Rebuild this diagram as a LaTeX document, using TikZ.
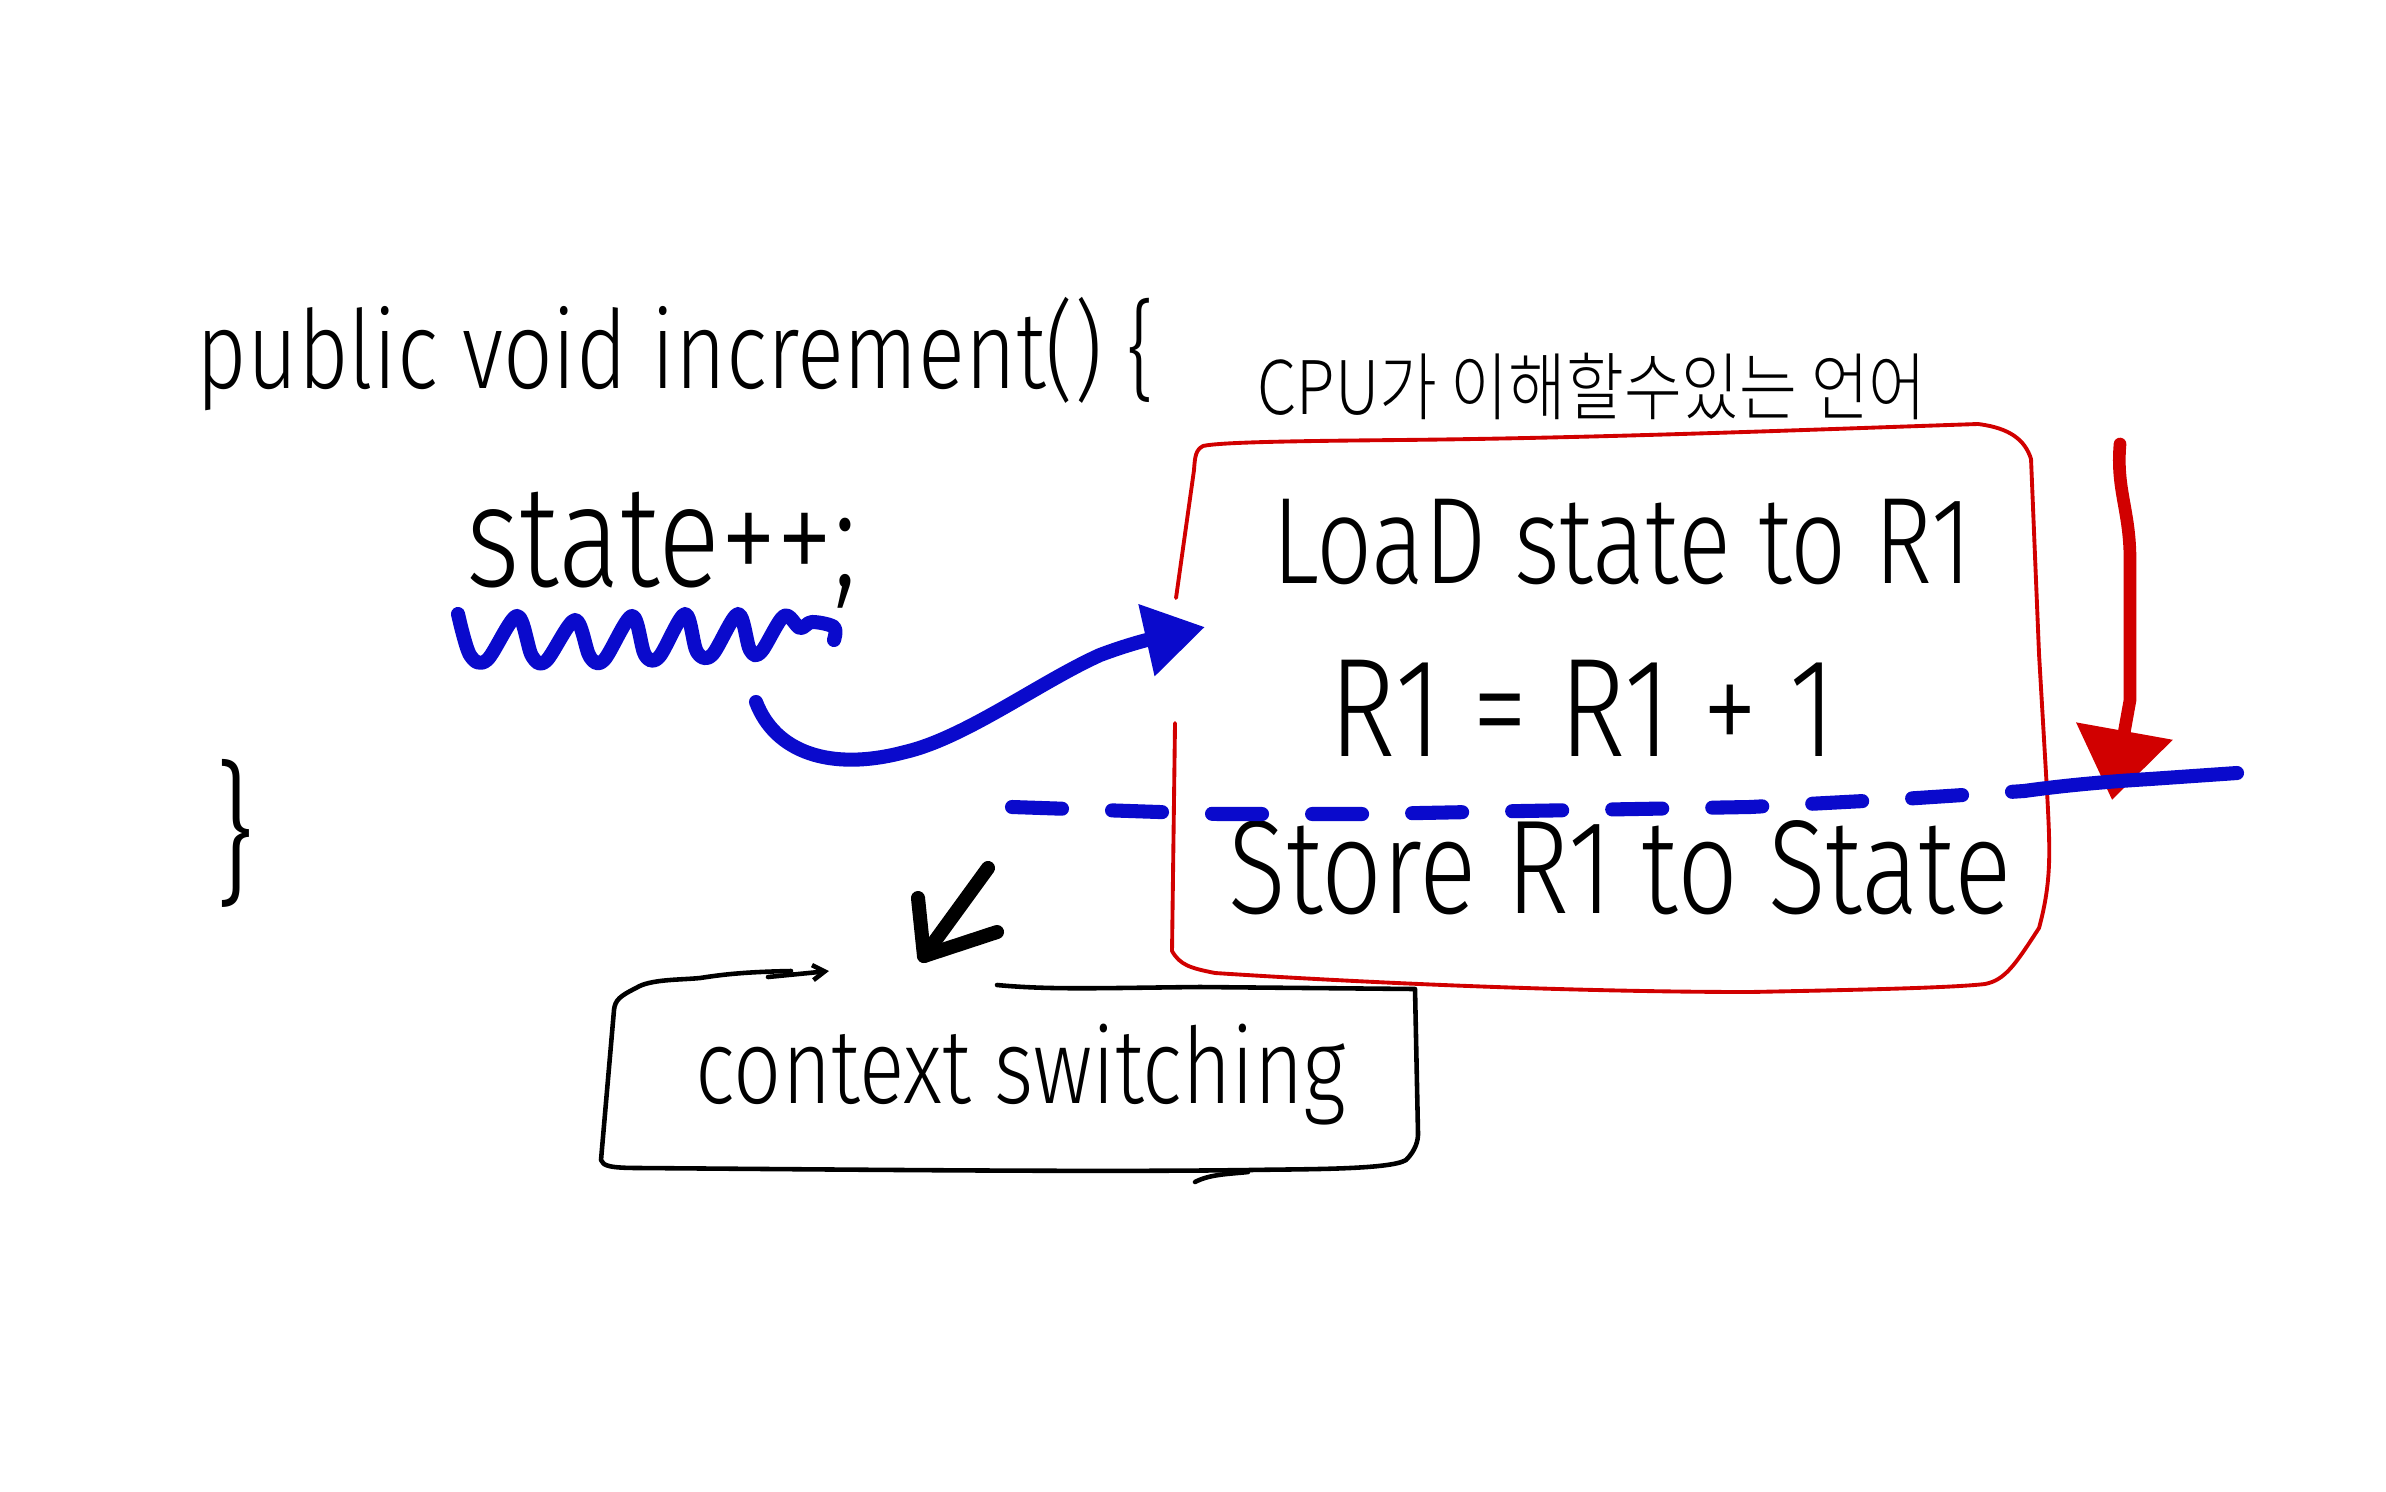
\documentclass[tikz,border=0pt]{standalone}
\usepackage{fontspec}
\setmainfont{Fira Sans}[UprightFont=* Light,FakeStretch=0.8]
\newfontfamily\kofont{Noto Sans CJK KR}[UprightFont=* Light,FakeStretch=0.85]
\usetikzlibrary{arrows.meta}
\definecolor{penred}{HTML}{D10000}
\definecolor{penblue}{HTML}{0A0ACC}
\begin{document}
\begin{tikzpicture}[x=0.01cm,y=-0.01cm,line cap=round,line join=round,
  txt/.style={inner sep=0pt,text=black,anchor=base},
  redbox/.style={draw=penred,line width=1.1pt},
  redpen/.style={draw=penred,line width=3.6pt},
  bluepen/.style={draw=penblue,line width=4pt},
  blackbox/.style={draw=black,line width=1.3pt},
  blackpen/.style={draw=black,line width=4pt}]
\useasboundingbox[fill=white] (0,0) rectangle (2386,1491);

% texts
\node[txt,font=\fontsize{31}{36}\selectfont] (sig) at (676,388) {public void increment() \{};
\node[txt,font=\fontsize{41}{46}\selectfont] (stmt) at (662,586) {state++;};
\node[txt,font=\fontsize{44}{50}\selectfont,anchor=center] (close) at (235,833) {\}};
\node[txt,font=\kofont\fontsize{21}{26}\selectfont] (ko) at (1592,414) {CPU가 이해할수있는 언어};
\node[txt,font=\fontsize{35}{40}\selectfont] (l1) at (1622,583) {LoaD state to R1};
\node[txt,font=\fontsize{40}{46}\selectfont] (l2) at (1583,756) {R1 = R1 + 1};
\node[txt,font=\fontsize{38}{44}\selectfont] (l3) at (1620,913) {Store R1 to State};
\node[txt,font=\fontsize{30}{36}\selectfont] (cs) at (1021,1103) {context switching};

% red box (gap on the left edge)
\draw[redbox] (1175,723) -- (1172,951) .. controls (1180,965) and (1190,968) .. (1215,973)
  .. controls (1400,985) and (1600,992) .. (1750,992) .. controls (1850,990) and (1950,988) .. (1985,984)
  .. controls (2005,980) and (2015,965) .. (2039,928) .. controls (2052,880) and (2050,850) .. (2047,791)
  -- (2039,654) -- (2031,459) .. controls (2025,440) and (2010,428) .. (1978,424)
  .. controls (1800,430) and (1600,438) .. (1400,440) .. controls (1300,441) and (1220,442) .. (1203,446)
  .. controls (1196,450) and (1195,455) .. (1194,470) -- (1176,598);

% red arrow
\coordinate (rtop) at (2120,444);
\coordinate (rtip) at (2112,800);
\draw[redpen,-{Triangle[length=0.7cm,width=0.95cm]}] (rtop) .. controls (2116,490) and (2130,510) .. (2130,560) -- (2130,700) -- (rtip);

% blue dashed line with solid right part
\coordinate (dl) at (1012,807);
\coordinate (dm) at (2024,791);
\coordinate (dr) at (2237,773);
\draw[bluepen,dash pattern=on 0.5cm off 0.5cm] (dl) -- (1218,814) -- (1370,814) -- (1522,811) -- (1750,807) -- (1902,799) -- (dm);
\draw[bluepen] (dm) .. controls (2060,786) and (2100,782) .. (2150,779) -- (dr);

% blue wavy underline
\draw[bluepen] plot[smooth,tension=0.55] coordinates {(458,614) (470,655) (487,660) (517,616) (532,656) (546,661) (575,620) (590,657) (604,660) (632,616) (645,655) (659,657) (685,614) (697,652) (712,655) (738,614) (750,650) (761,652) (784,616) (800,628) (812,622) (834,627) (834,640)};

% blue curved arrow into the red box
\coordinate (bs) at (756,702);
\coordinate (bt) at (1205,627);
\draw[bluepen,-{Triangle[length=0.6cm,width=0.7cm]}] (bs) .. controls (775,752) and (830,772) .. (905,752)
  .. controls (965,738) and (1040,682) .. (1100,655) .. controls (1140,640) and (1165,636) .. (bt);

% black arrow to context switching
\coordinate (ks) at (988,868);
\coordinate (kt) at (924,956);
\coordinate (ka) at (918,898);
\coordinate (kb) at (997,932);
\draw[blackpen] (ks) -- (kt);
\draw[blackpen] (ka) -- (kt) -- (kb);

% context switching box (hand drawn, gap at top)
\draw[blackbox] (791,971) .. controls (740,972) and (720,975) .. (700,978) .. controls (680,980) and (650,979) .. (636,988)
  .. controls (620,996) and (615,1000) .. (614,1010) -- (601,1160) .. controls (603,1166) and (610,1168) .. (640,1168)
  .. controls (900,1170) and (1100,1172) .. (1250,1170) .. controls (1300,1169) and (1390,1170) .. (1406,1160)
  .. controls (1416,1150) and (1418,1140) .. (1418,1134) -- (1415,989) -- (1200,987)
  .. controls (1100,988) and (1050,990) .. (997,985);
\draw[blackbox,-{Straight Barb[length=0.12cm,width=0.15cm]}] (768,977) -- (829,971);
\draw[blackbox] (1195,1182) .. controls (1210,1174) and (1230,1174) .. (1248,1172);
\end{tikzpicture}
\end{document}
